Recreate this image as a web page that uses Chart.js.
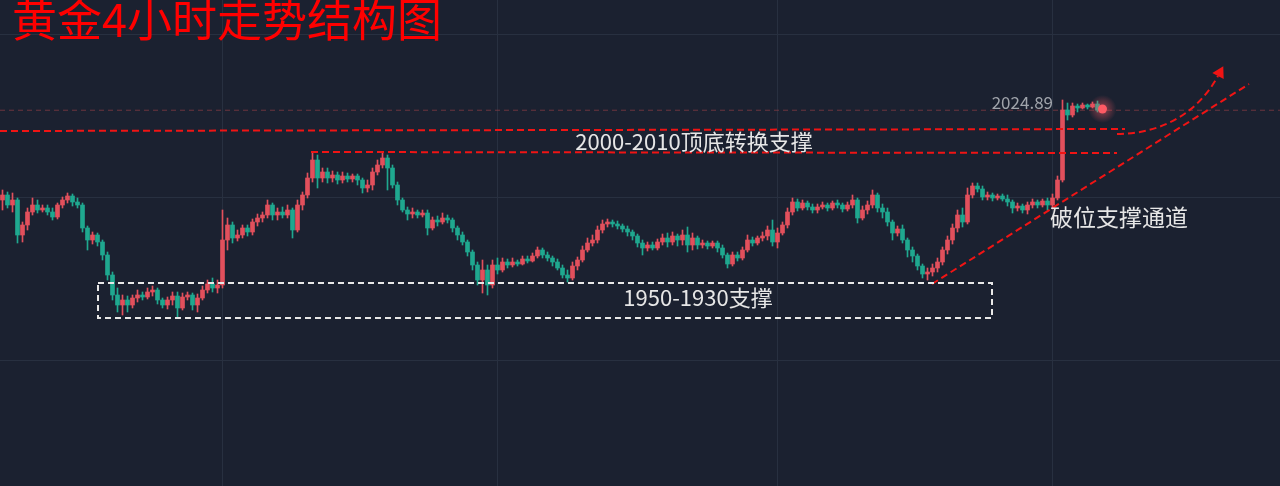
<!DOCTYPE html>
<html>
<head>
<meta charset="utf-8">
<script src="https://cdn.jsdelivr.net/npm/chart.js@4.4.0/dist/chart.umd.min.js"></script>
<style>
    html, body { margin: 0; padding: 0; background: #1b2130; }
    .chart-box { position: relative; width: 1280px; height: 486px; }
</style>
</head>
<body>
<div class="chart-box"><canvas id="goldChart"></canvas></div>
<script>
// DATA (4h candles)

const slotCount = 256; // candle slots across the width, the last ones stay empty

const opens = [
    1980, 1982.5, 1977.5, 1980, 1962.5, 1967.5, 1974, 1977.5, 1975, 1976,
    1974, 1971.5, 1977.5, 1980, 1982, 1979, 1977.5, 1966, 1960, 1962.5,
    1959, 1952.5, 1942.5, 1932.5, 1927.5, 1930, 1927.5, 1931, 1932.5, 1931.5,
    1934, 1935, 1930, 1927.5, 1930, 1932, 1926, 1931.5, 1932.5, 1927.5,
    1931, 1935, 1938, 1936, 1937.5, 1960, 1967.5, 1961, 1962.5, 1966,
    1964, 1969, 1971, 1972.5, 1977.5, 1972.5, 1974, 1972.5, 1975, 1965,
    1977.5, 1982.5, 1991, 2000, 1991, 1994, 1991, 1992.5, 1990, 1992,
    1990.5, 1992, 1990, 1986, 1987.5, 1994, 1997.5, 2001, 1996, 1987.5,
    1980, 1975, 1973, 1974, 1972.5, 1973.5, 1966, 1970, 1969, 1971,
    1970, 1966, 1962.5, 1959, 1954, 1947.5, 1940, 1945, 1937.5, 1947.5,
    1945, 1949, 1947.5, 1949, 1948, 1950.5, 1949.5, 1952, 1955, 1952.5,
    1951, 1949, 1946, 1942.5, 1941, 1947, 1950, 1955, 1958.5, 1960,
    1965, 1968, 1969, 1968, 1967, 1965.5, 1964, 1962, 1958.5, 1956,
    1957.5, 1956, 1959, 1961, 1959, 1962, 1960, 1962.5, 1957.5, 1961,
    1957.5, 1958.5, 1957, 1958.5, 1956, 1952.5, 1948, 1952.5, 1951, 1955,
    1960, 1958.5, 1961, 1962, 1965, 1959, 1963.5, 1967.5, 1974, 1979,
    1976, 1978.5, 1976.5, 1975, 1976.5, 1977.5, 1976, 1978.5, 1977.5, 1975.5,
    1977.5, 1980, 1971, 1975, 1977.5, 1982.5, 1976, 1974, 1969, 1963.5,
    1965.5, 1960, 1955, 1952, 1947, 1943, 1944, 1946, 1949, 1955,
    1960, 1966, 1972.5, 1969, 1982.5, 1987, 1985.5, 1981.5, 1982.5, 1981,
    1982, 1980.5, 1979, 1976, 1977, 1975, 1977.5, 1979, 1977.5, 1979.5,
    1977.5, 1981, 1990, 2025, 2022.5, 2027, 2026, 2027.5, 2026.5, 2028
];

const highs = [
    1985, 1984, 1983.5, 1981, 1969, 1976, 1981, 1980, 1977.5, 1977.5,
    1976, 1978.5, 1981.5, 1983.5, 1983, 1981, 1978.5, 1967, 1964, 1963.5,
    1960, 1954, 1944, 1936, 1932.5, 1932, 1932.5, 1935, 1934, 1936,
    1937, 1936, 1931, 1931.5, 1934, 1934, 1933.5, 1934, 1933.5, 1933,
    1937, 1940, 1941, 1940, 1975, 1971, 1969, 1965, 1967.5, 1967.5,
    1970.5, 1973, 1974, 1980, 1978.5, 1976, 1976.5, 1977.5, 1976, 1980,
    1984, 1993.5, 2004, 2002.5, 1996, 1996, 1994.5, 1994, 1994, 1993.5,
    1993, 1993, 1991, 1990, 1996, 2000, 2004, 2002.5, 1997.5, 1989,
    1981, 1976.5, 1976, 1975, 1975, 1975, 1971.5, 1972, 1973.5, 1972.5,
    1971, 1967, 1964, 1960, 1955, 1949, 1950, 1947.5, 1950, 1951,
    1951, 1950.5, 1951, 1950, 1952, 1952, 1953.5, 1956.5, 1956, 1954,
    1952, 1950.5, 1947.5, 1945, 1949, 1951.5, 1957, 1961, 1962.5, 1967,
    1970, 1970.5, 1970, 1969.5, 1968, 1967, 1965, 1963, 1960, 1959,
    1959, 1960.5, 1963, 1963.5, 1964, 1963, 1965, 1966.5, 1963.5, 1962,
    1960, 1959.5, 1959.5, 1959.5, 1957.5, 1953.5, 1954, 1954, 1956.5, 1962.5,
    1961.5, 1962, 1964, 1967, 1970, 1966, 1969, 1976, 1981, 1980.5,
    1980, 1979.5, 1978, 1978, 1979, 1978.5, 1979.5, 1980, 1978.5, 1979,
    1982.5, 1981, 1977, 1979.5, 1985, 1983.5, 1978, 1976, 1970, 1967,
    1967.5, 1961, 1956.5, 1953, 1948, 1946, 1948, 1951, 1956.5, 1962,
    1968, 1975, 1976, 1986, 1988.5, 1988.5, 1987, 1984, 1983.5, 1983,
    1983, 1982.5, 1980, 1978.5, 1978, 1979, 1980.5, 1980, 1980.5, 1981,
    1983, 1992, 2030, 2028.5, 2028.5, 2028, 2028.5, 2028, 2029, 2029.5
];

const lows = [
    1975, 1976, 1974, 1958.5, 1959, 1965, 1972.5, 1973.5, 1974, 1972.5,
    1970, 1970.5, 1976, 1978.5, 1977, 1976, 1964, 1955, 1958, 1957,
    1950, 1940, 1930, 1924, 1922.5, 1924, 1926, 1929, 1930, 1930.5,
    1932, 1928, 1926, 1925.5, 1927.5, 1921.5, 1925, 1930, 1925, 1924,
    1930, 1933.5, 1934, 1933.5, 1936, 1955, 1958.5, 1959.5, 1961, 1962,
    1962.5, 1967, 1969, 1971, 1970, 1970, 1971, 1971, 1961, 1964,
    1975, 1981, 1989, 1986, 1989, 1988.5, 1989, 1988, 1988.5, 1989,
    1989, 1987.5, 1983.5, 1984, 1985, 1992.5, 1996, 1985, 1986, 1977.5,
    1974, 1970, 1971, 1971, 1971.5, 1962.5, 1965, 1967, 1968, 1968.5,
    1964, 1960, 1957.5, 1952, 1945, 1937.5, 1933.5, 1932.5, 1936, 1943,
    1944, 1946, 1946.5, 1947, 1947.5, 1948.5, 1949, 1951, 1951, 1949.5,
    1947, 1945, 1941, 1939, 1940, 1945, 1949, 1954, 1957, 1958.5,
    1963.5, 1966.5, 1966.5, 1965.5, 1964, 1962, 1960, 1956.5, 1952.5, 1954.5,
    1955, 1955, 1957.5, 1956.5, 1957.5, 1957, 1957.5, 1954, 1955, 1955.5,
    1956, 1955.5, 1956, 1954, 1951, 1946, 1947, 1949.5, 1950, 1954,
    1957, 1957.5, 1959.5, 1960, 1957, 1956, 1962.5, 1966, 1972.5, 1974.5,
    1975, 1975, 1973.5, 1973.5, 1975.5, 1974.5, 1975, 1976, 1974, 1974.5,
    1976, 1968.5, 1970, 1973, 1976, 1974, 1971, 1967, 1960, 1962,
    1958.5, 1951.5, 1949, 1945, 1941, 1940, 1942, 1944, 1947.5, 1953,
    1958, 1964, 1966.5, 1968, 1981, 1984, 1980, 1980, 1979.5, 1980,
    1979.5, 1977, 1973.5, 1974.5, 1973.5, 1973, 1976, 1976, 1976.5, 1975,
    1975.5, 1980, 1989, 2020, 2021.5, 2024, 2025.5, 2025.5, 2026, 2024
];

const closes = [
    1982.5, 1977.5, 1980, 1962.5, 1967.5, 1974, 1977.5, 1975, 1976, 1974,
    1971.5, 1977.5, 1980, 1982, 1979, 1977.5, 1966, 1960, 1962.5, 1959,
    1952.5, 1942.5, 1932.5, 1927.5, 1930, 1927.5, 1931, 1932.5, 1931.5, 1934,
    1935, 1930, 1927.5, 1930, 1932, 1926, 1931.5, 1932.5, 1927.5, 1931,
    1935, 1938, 1936, 1937.5, 1960, 1967.5, 1961, 1962.5, 1966, 1964,
    1969, 1971, 1972.5, 1977.5, 1972.5, 1974, 1972.5, 1975, 1965, 1977.5,
    1982.5, 1991, 2000, 1991, 1994, 1991, 1992.5, 1990, 1992, 1990.5,
    1992, 1990, 1986, 1987.5, 1994, 1997.5, 2001, 1996, 1987.5, 1980,
    1975, 1973, 1974, 1972.5, 1973.5, 1966, 1970, 1969, 1971, 1970,
    1966, 1962.5, 1959, 1954, 1947.5, 1940, 1945, 1937.5, 1947.5, 1945,
    1949, 1947.5, 1949, 1948, 1950.5, 1949.5, 1952, 1955, 1952.5, 1951,
    1949, 1946, 1942.5, 1941, 1947, 1950, 1955, 1958.5, 1960, 1965,
    1968, 1969, 1968, 1967, 1965.5, 1964, 1962, 1958.5, 1956, 1957.5,
    1956, 1959, 1961, 1959, 1962, 1960, 1962.5, 1957.5, 1961, 1957.5,
    1958.5, 1957, 1958.5, 1956, 1952.5, 1948, 1952.5, 1951, 1955, 1960,
    1958.5, 1961, 1962, 1965, 1959, 1963.5, 1967.5, 1974, 1979, 1976,
    1978.5, 1976.5, 1975, 1976.5, 1977.5, 1976, 1978.5, 1977.5, 1975.5, 1977.5,
    1980, 1971, 1975, 1977.5, 1982.5, 1976, 1974, 1969, 1963.5, 1965.5,
    1960, 1955, 1952, 1947, 1943, 1944, 1946, 1949, 1955, 1960,
    1966, 1972.5, 1969, 1982.5, 1987, 1985.5, 1981.5, 1982.5, 1981, 1982,
    1980.5, 1979, 1976, 1977, 1975, 1977.5, 1979, 1977.5, 1979.5, 1977.5,
    1981, 1990, 2025, 2022.5, 2027, 2026, 2027.5, 2026.5, 2028, 2024.89
];

const lastPrice = 2024.89;
const gridPricesY = [2063, 1981.5, 1900];
const gridSlotsX = [44, 99, 155, 210];

// annotation anchors as [slot, price]
const resistanceTop = [[-0.5, 2014.5], [224.5, 2015.5]];
const resistanceBottom = [[61.7, 2004], [222.9, 2003.5]];
const supportBox = [[19.1, 1938.5], [197.9, 1921]];
const channelLine = [[185.9, 1938], [249.3, 2038]];
const forecastCurve = [[222.9, 2013], [230.5, 2013], [238.5, 2021], [243.1, 2042]];

const titleText = "黄金4小时走势结构图";
const labelTop = { text: "2000-2010顶底转换支撑", at: [138.3, 2009] };
const labelBox = { text: "1950-1930支撑", at: [139.1, 1931] };
const labelChannel = { text: "破位支撑通道", at: [209.5, 1971.5] };
const labelPrice = { text: "2024.89", at: [210.1, 2028.5] };
const dotAt = [220, 2025.5];

// STYLE

const bgColor = "#1b2130";
const gridColor = "#283040";
const upColor = "#e2505c";   // red = up
const downColor = "#1fa88f"; // green = down
const markRed = "#f01414";
const cjkFont = "'Noto Sans CJK SC', 'Noto Sans', sans-serif";

const slots = Array.from({ length: slotCount }, (_, i) => i);
const candleColors = opens.map((o, i) => closes[i] >= o ? upColor : downColor);

// FUNCTIONS

function toPixel(chart, point) {
    return [chart.scales.x.getPixelForValue(point[0]), chart.scales.y.getPixelForValue(point[1])];
}

function dashedLine(ctx, a, b, color, dash) {
    ctx.save();
    ctx.strokeStyle = color;
    ctx.lineWidth = 2;
    ctx.setLineDash(dash);
    ctx.beginPath();
    ctx.moveTo(a[0], a[1]);
    ctx.lineTo(b[0], b[1]);
    ctx.stroke();
    ctx.restore();
}

function drawText(ctx, text, pos, font, color, align) {
    ctx.save();
    ctx.font = font;
    ctx.fillStyle = color;
    ctx.textAlign = align;
    ctx.textBaseline = "middle";
    ctx.fillText(text, pos[0], pos[1]);
    ctx.restore();
}

const annotationPlugin = {
    id: "annotations",
    beforeDraw(chart) {
        const ctx = chart.ctx;
        ctx.save();
        ctx.fillStyle = bgColor;
        ctx.fillRect(0, 0, chart.width, chart.height);
        ctx.restore();
    },
    beforeDatasetsDraw(chart) {
        // last price line
        const { ctx, chartArea } = chart;
        const y = chart.scales.y.getPixelForValue(lastPrice);
        ctx.save();
        ctx.strokeStyle = "rgba(130, 58, 66, 0.8)";
        ctx.lineWidth = 1;
        ctx.setLineDash([5, 4]);
        ctx.beginPath();
        ctx.moveTo(chartArea.left, y);
        ctx.lineTo(chartArea.right, y);
        ctx.stroke();
        ctx.restore();
    },
    afterDatasetsDraw(chart) {
        const ctx = chart.ctx;

        dashedLine(ctx, toPixel(chart, resistanceTop[0]), toPixel(chart, resistanceTop[1]), markRed, [7, 4]);
        dashedLine(ctx, toPixel(chart, resistanceBottom[0]), toPixel(chart, resistanceBottom[1]), markRed, [7, 4]);
        dashedLine(ctx, toPixel(chart, channelLine[0]), toPixel(chart, channelLine[1]), markRed, [7, 4]);

        // support box
        const b0 = toPixel(chart, supportBox[0]);
        const b1 = toPixel(chart, supportBox[1]);
        ctx.save();
        ctx.strokeStyle = "#e8e8e8";
        ctx.lineWidth = 2;
        ctx.setLineDash([6, 4]);
        ctx.strokeRect(b0[0], b0[1], b1[0] - b0[0], b1[1] - b0[1]);
        ctx.restore();

        // forecast curve with arrow
        const c = forecastCurve.map(p => toPixel(chart, p));
        ctx.save();
        ctx.strokeStyle = markRed;
        ctx.lineWidth = 2;
        ctx.setLineDash([7, 4]);
        ctx.beginPath();
        ctx.moveTo(c[0][0], c[0][1]);
        ctx.bezierCurveTo(c[1][0], c[1][1], c[2][0], c[2][1], c[3][0], c[3][1]);
        ctx.stroke();
        const dx = c[3][0] - c[2][0];
        const dy = c[3][1] - c[2][1];
        const len = Math.hypot(dx, dy);
        const ux = dx / len, uy = dy / len;
        const tip = [c[3][0] + ux * 11, c[3][1] + uy * 11];
        ctx.setLineDash([]);
        ctx.fillStyle = markRed;
        ctx.beginPath();
        ctx.moveTo(tip[0], tip[1]);
        ctx.lineTo(c[3][0] - uy * 6.5, c[3][1] + ux * 6.5);
        ctx.lineTo(c[3][0] + uy * 6.5, c[3][1] - ux * 6.5);
        ctx.closePath();
        ctx.fill();
        ctx.restore();

        // glowing dot on the last price
        const d = toPixel(chart, dotAt);
        ctx.save();
        const glow = ctx.createRadialGradient(d[0], d[1], 0, d[0], d[1], 14);
        glow.addColorStop(0, "rgba(255, 90, 100, 0.55)");
        glow.addColorStop(1, "rgba(255, 90, 100, 0)");
        ctx.fillStyle = glow;
        ctx.beginPath();
        ctx.arc(d[0], d[1], 14, 0, Math.PI * 2);
        ctx.fill();
        ctx.fillStyle = "#ff5a64";
        ctx.beginPath();
        ctx.arc(d[0], d[1], 4.5, 0, Math.PI * 2);
        ctx.fill();
        ctx.restore();

        drawText(ctx, labelTop.text, toPixel(chart, labelTop.at), `22px ${cjkFont}`, "#e6e6e6", "center");
        drawText(ctx, labelBox.text, toPixel(chart, labelBox.at), `22px ${cjkFont}`, "#e6e6e6", "center");
        drawText(ctx, labelChannel.text, toPixel(chart, labelChannel.at), `23px ${cjkFont}`, "#e6e6e6", "left");
        drawText(ctx, labelPrice.text, toPixel(chart, labelPrice.at), `17px ${cjkFont}`, "#a0a4ab", "right");

        // title
        drawText(ctx, titleText, [12, 20], `45px ${cjkFont}`, "#ff0000", "left");
    }
};

new Chart(document.getElementById("goldChart"), {
    type: "bar",
    plugins: [annotationPlugin],
    data: {
        labels: slots,
        datasets: [
            {
                label: "body",
                data: opens.map((o, i) => [o, closes[i]]),
                backgroundColor: candleColors,
                barThickness: 4,
                grouped: false,
            },
            {
                label: "wick",
                data: lows.map((l, i) => [l, highs[i]]),
                backgroundColor: candleColors,
                barThickness: 1,
                grouped: false,
            }
        ]
    },
    options: {
        responsive: true,
        maintainAspectRatio: false,
        animation: false,
        layout: { padding: 0 },
        scales: {
            x: {
                offset: true,
                grid: {
                    offset: false,
                    drawTicks: false,
                    color: ctx => gridSlotsX.includes(ctx.index) ? gridColor : "transparent",
                },
                ticks: { display: false },
                border: { display: false },
            },
            y: {
                min: 1837,
                max: 2080,
                grid: { drawTicks: false, color: gridColor },
                ticks: { display: false },
                border: { display: false },
                afterBuildTicks: scale => {
                    scale.ticks = gridPricesY.map(v => ({ value: v }));
                },
            }
        },
        plugins: {
            legend: { display: false },
            tooltip: { enabled: false },
        }
    }
});
</script>
</body>
</html>
